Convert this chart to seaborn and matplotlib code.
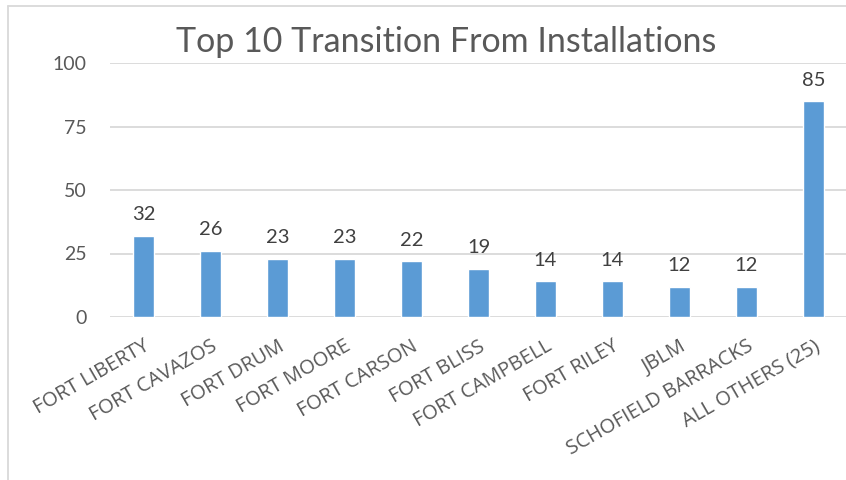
import pandas as pd
import matplotlib.pyplot as plt
import seaborn as sns
from matplotlib.lines import Line2D

# Dados
instalacoes = ["FORT LIBERTY", "FORT CAVAZOS", "FORT DRUM", "FORT MOORE", "FORT CARSON",
               "FORT BLISS", "FORT CAMPBELL", "FORT RILEY", "JBLM", "SCHOFIELD BARRACKS",
               "ALL OTHERS (25)"]
valores = [32, 26, 23, 23, 22, 19, 14, 14, 12, 12, 85]
ticks_y = [0, 25, 50, 75, 100]

df = pd.DataFrame({"instalacao": instalacoes, "valor": valores})

sns.set_theme(style="white")
plt.rcParams['font.family'] = ['Lato', 'DejaVu Sans']

cor_texto = "#595959"
cor_grade = "#D9D9D9"

fig = plt.figure(figsize=(8.46, 4.8), dpi=100)
ax = fig.add_axes([110 / 846, 1 - 317 / 480, 737 / 846, 254 / 480])

sns.barplot(data=df, x="instalacao", y="valor", color="#5B9BD5", width=0.31,
            saturation=1, ax=ax, zorder=3)

ax.set_ylim(0, 100)
ax.set_yticks(ticks_y)
ax.yaxis.grid(True, color=cor_grade, linewidth=1.3, zorder=0)
ax.set_axisbelow(True)
for lado in ["top", "right", "left", "bottom"]:
    ax.spines[lado].set_visible(False)
ax.tick_params(axis="y", length=0, pad=17, labelsize=14, labelcolor=cor_texto)
ax.tick_params(axis="x", length=0, pad=14, labelcolor=cor_texto)
ax.set_xlabel("")
ax.set_ylabel("")

for rotulo in ax.get_xticklabels():
    rotulo.set_rotation(30)
    rotulo.set_ha("right")
    rotulo.set_rotation_mode("anchor")
    rotulo.set_fontsize(14.5)
    rotulo.set_family(["Open Sans", "DejaVu Sans"])

# Rótulos de valores
for barra, v in zip(ax.patches, valores):
    ax.annotate(str(v), (barra.get_x() + barra.get_width() / 2, barra.get_height()),
                xytext=(0, 9), textcoords="offset points", ha="center", va="bottom",
                fontsize=14.5, color="#404040")

# Título
fig.text(446 / 846, 1 - 42 / 480, "Top 10 Transition From Installations",
         ha="center", va="center", fontsize=24.5, color=cor_texto)

# Moldura do gráfico
fig.add_artist(Line2D([8 / 846, 8 / 846], [0, 1 - 6 / 480], color=cor_grade,
                      linewidth=1.3, transform=fig.transFigure))
fig.add_artist(Line2D([8 / 846, 1], [1 - 6 / 480, 1 - 6 / 480], color=cor_grade,
                      linewidth=1.3, transform=fig.transFigure))

plt.savefig("out.png", dpi=100)
